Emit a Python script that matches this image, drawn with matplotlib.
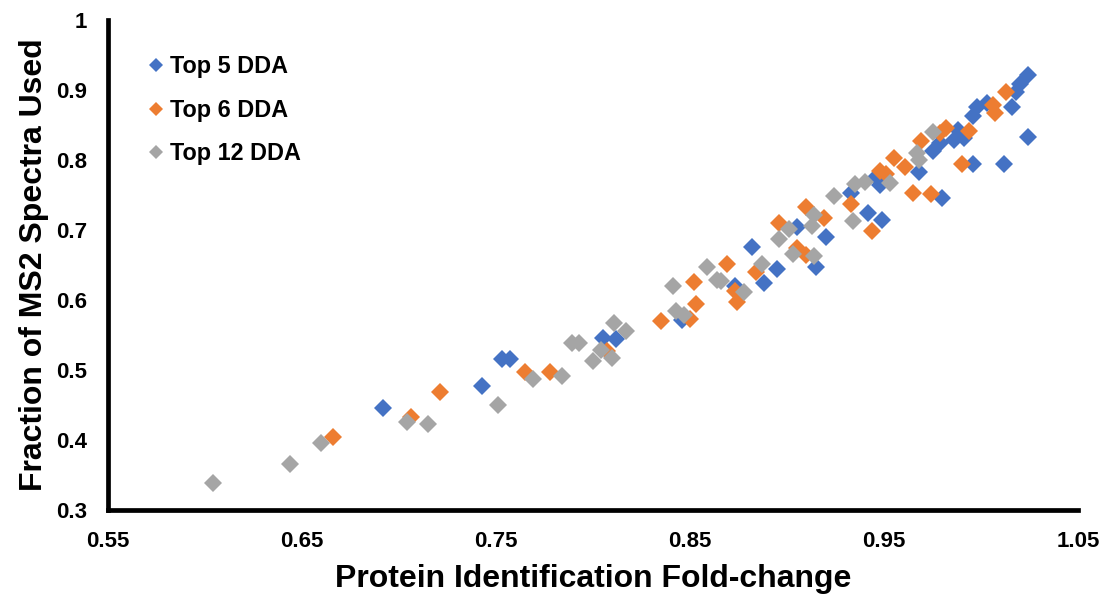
import matplotlib
matplotlib.use("Agg")
import matplotlib.pyplot as plt

plt.rcParams['font.family'] = ['Liberation Sans', 'DejaVu Sans']
plt.rcParams['font.weight'] = 'bold'

# values
top5_x = [0.692, 0.743, 0.753, 0.757, 0.805, 0.812, 0.846, 0.873, 0.882, 0.888,
          0.895, 0.905, 0.920, 0.915, 0.933, 0.942, 0.949, 0.946, 0.948, 0.968,
          0.975, 0.979, 0.980, 0.986, 0.988, 0.991, 0.996, 0.996, 0.998, 1.003,
          1.012, 1.016, 1.018, 1.020, 1.024, 1.024]
top5_y = [0.446, 0.477, 0.516, 0.516, 0.546, 0.544, 0.571, 0.620, 0.676, 0.624,
          0.644, 0.704, 0.690, 0.647, 0.753, 0.724, 0.714, 0.776, 0.765, 0.783,
          0.813, 0.824, 0.746, 0.829, 0.843, 0.831, 0.794, 0.863, 0.876, 0.881,
          0.794, 0.876, 0.897, 0.909, 0.921, 0.833]

top6_x = [0.666, 0.706, 0.721, 0.765, 0.778, 0.807, 0.835, 0.850, 0.852, 0.853,
          0.869, 0.873, 0.874, 0.884, 0.896, 0.905, 0.910, 0.919, 0.910, 0.933,
          0.944, 0.948, 0.951, 0.955, 0.961, 0.965, 0.969, 0.974, 0.979, 0.982,
          0.990, 0.994, 1.006, 1.007, 1.013]
top6_y = [0.405, 0.433, 0.469, 0.497, 0.497, 0.527, 0.570, 0.573, 0.626, 0.594,
          0.651, 0.613, 0.597, 0.640, 0.710, 0.674, 0.733, 0.717, 0.664, 0.737,
          0.699, 0.784, 0.780, 0.803, 0.790, 0.753, 0.827, 0.751, 0.839, 0.846,
          0.794, 0.841, 0.879, 0.867, 0.897]

top12_x = [0.604, 0.644, 0.660, 0.704, 0.715, 0.751, 0.769, 0.784, 0.789, 0.793,
           0.800, 0.804, 0.810, 0.811, 0.817, 0.841, 0.843, 0.847, 0.859, 0.864,
           0.866, 0.878, 0.887, 0.896, 0.901, 0.903, 0.913, 0.914, 0.914, 0.924,
           0.934, 0.935, 0.940, 0.953, 0.967, 0.968, 0.975]
top12_y = [0.339, 0.366, 0.396, 0.426, 0.423, 0.450, 0.487, 0.491, 0.538, 0.538,
           0.513, 0.529, 0.517, 0.567, 0.556, 0.620, 0.584, 0.578, 0.647, 0.629,
           0.627, 0.611, 0.651, 0.687, 0.701, 0.666, 0.706, 0.721, 0.663, 0.749,
           0.713, 0.766, 0.769, 0.767, 0.810, 0.800, 0.840]

xticks = [0.55, 0.65, 0.75, 0.85, 0.95, 1.05]
xtick_labels = ['0.55', '0.65', '0.75', '0.85', '0.95', '1.05']
yticks = [0.3, 0.4, 0.5, 0.6, 0.7, 0.8, 0.9, 1.0]
ytick_labels = ['0.3', '0.4', '0.5', '0.6', '0.7', '0.8', '0.9', '1']

fig = plt.figure(figsize=(11.09, 5.94), dpi=100)
ax = fig.add_axes([108 / 1109, 1 - 510 / 594, 970 / 1109, 490 / 594])

ms = 9
ax.plot(top5_x, top5_y, 'D', color='#4472C4', ms=ms, mew=0, label='Top 5 DDA')
ax.plot(top6_x, top6_y, 'D', color='#ED7D31', ms=ms, mew=0, label='Top 6 DDA')
ax.plot(top12_x, top12_y, 'D', color='#A5A5A5', ms=ms, mew=0, label='Top 12 DDA')

ax.set_xlim(0.55, 1.05)
ax.set_ylim(0.3, 1.0)
ax.set_xticks(xticks)
ax.set_xticklabels(xtick_labels)
ax.set_yticks(yticks)
ax.set_yticklabels(ytick_labels)
ax.tick_params(length=0, labelsize=16)
ax.tick_params(axis='y', pad=15)
ax.tick_params(axis='x', pad=15)

for s in ['top', 'right']:
    ax.spines[s].set_visible(False)
for s in ['left', 'bottom']:
    ax.spines[s].set_linewidth(3.4)
    ax.spines[s].set_color('black')

ax.set_xlabel('Protein Identification Fold-change', fontsize=23, fontweight='bold', labelpad=9)
ax.set_ylabel('Fraction of MS2 Spectra Used', fontsize=23, fontweight='bold', labelpad=5)

leg = ax.legend(loc='upper left', bbox_to_anchor=(0.033, 0.947), frameon=False,
                fontsize=16.8, markerscale=0.75, handlelength=0.6,
                handletextpad=0.3, labelspacing=0.88, borderaxespad=0)

fig.savefig('out.png', dpi=100)
